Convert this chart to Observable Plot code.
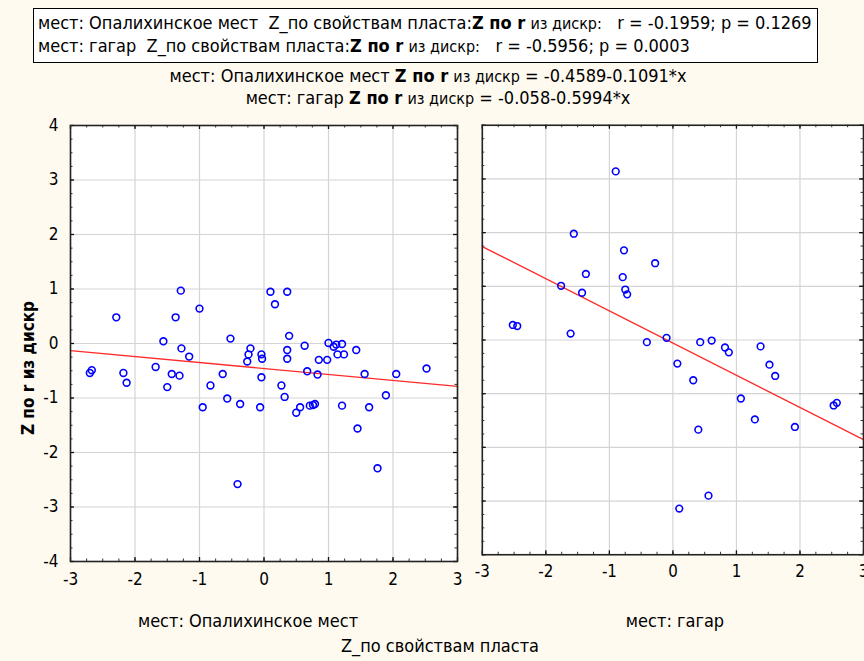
<!DOCTYPE html>
<html><head><meta charset="utf-8">
<script src="https://cdn.jsdelivr.net/npm/d3@7"></script>
<script src="https://cdn.jsdelivr.net/npm/@observablehq/plot@0.6"></script>
<style>
html,body{margin:0;padding:0;background:#fffaf0;overflow:hidden}
#wrap{position:relative;width:864px;height:661px;overflow:hidden;background:#fffaf0;
 font-family:"Liberation Sans Narrow","Arial Narrow","DejaVu Sans Condensed",sans-serif;color:#000}
.t{position:absolute;white-space:pre;font-size:18px;line-height:20px}
.bz{font-weight:bold;font-size:18px}
.sm{font-size:16px}
#legend{position:absolute;left:33px;top:8px;width:783px;height:53px;border:1px solid #000;background:#fff}
#legend .t{left:4px}
.p{position:absolute}
#ylab{position:absolute;left:28px;top:368px;transform:translate(-50%,-50%) rotate(-90deg);font-weight:bold;font-size:17px;white-space:pre}
</style></head>
<body>
<div id="wrap">
  <div id="legend"></div>
  <div id="eq"></div>
  <div id="left" class="p" style="left:0;top:110px"></div>
  <div id="right" class="p" style="left:470px;top:110px"></div>
  <div id="ylab"></div>
  <div id="bottom"></div>
</div>
<script>
// ---- data ----
const groupNames = ["Опалихинское мест", "гагар"];
const xVarName = "Z_по свойствам пласта";
const yVarName = "Z по r";
const yVarSuffix = "из дискр";
const rValues = ["-0.1959", "-0.5956"];
const pValues = ["0.1269", "0.0003"];
const intercepts = [-0.4589, -0.058];
const interceptText = ["-0.4589", "-0.058"];
const slopes = [-0.1091, -0.5994];
const slopeText = ["0.1091", "0.5994"];

const opalX = [-2.70,-2.67,-2.18,-2.13,-2.29,-1.56,-1.68,-1.43,-1.50,-1.31,-1.28,-1.16,-1.37,-1.29,-1.00,
  -0.95,-0.83,-0.64,-0.52,-0.57,-0.37,-0.41,-0.26,-0.24,-0.21,-0.04,-0.03,-0.04,-0.06,0.10,0.36,0.17,
  0.39,0.36,0.36,0.27,0.32,0.50,0.56,0.63,0.67,0.71,0.76,0.79,0.83,0.85,0.98,1.00,1.08,1.12,1.14,1.21,
  1.24,1.21,1.43,1.45,1.56,1.63,1.76,1.89,2.05,2.52];
const opalY = [-0.54,-0.49,-0.54,-0.72,0.48,0.04,-0.43,-0.56,-0.80,-0.59,-0.09,-0.24,0.48,0.97,0.64,
  -1.17,-0.77,-0.56,0.09,-1.01,-1.11,-2.58,-0.33,-0.20,-0.09,-0.20,-0.28,-0.62,-1.17,0.95,0.95,0.72,
  0.14,-0.12,-0.28,-0.77,-0.98,-1.27,-1.17,-0.04,-0.51,-1.14,-1.13,-1.11,-0.57,-0.30,-0.30,0.01,-0.06,-0.02,-0.20,-0.01,
  -0.20,-1.14,-0.12,-1.56,-0.56,-1.17,-2.29,-0.95,-0.56,-0.46];

const gagarX = [-0.90,-1.56,-0.77,-0.28,-1.37,-0.79,-1.76,-1.43,-0.75,-0.72,-2.52,-2.45,-1.61,
  -0.10,-0.41,0.07,0.32,0.43,0.61,0.82,0.88,1.38,1.52,1.61,1.07,1.29,1.92,0.40,2.53,2.58,0.56,0.10];
const gagarY = [3.14,1.98,1.67,1.43,1.23,1.17,1.01,0.88,0.94,0.85,0.28,0.26,0.12,
  0.04,-0.04,-0.44,-0.75,-0.04,-0.01,-0.14,-0.23,-0.12,-0.46,-0.67,-1.09,-1.48,-1.62,-1.67,-1.22,-1.17,-2.90,-3.14];

const xDomain = [-3, 3];
const yDomain = [-4, 4];
const xTicks = [-3,-2,-1,0,1,2,3];
const yTicks = [-4,-3,-2,-1,0,1,2,3,4];
const minorStep = 0.25;

// ---- layout ----
const FONT = '"Liberation Sans Narrow","Arial Narrow","DejaVu Sans Condensed",sans-serif';
const H = 490, MT = 15, MB = 39, PW = 387;
const PH = H - MT - MB;
const xMinor = d3.range(xDomain[0], xDomain[1] + 1e-9, minorStep);
const yMinor = d3.range(yDomain[0], yDomain[1] + 1e-9, minorStep);

function panel(xs, ys, a, b, showY, ml, mr) {
  const pts = xs.map((x, i) => ({x, y: ys[i]}));
  const fit = xDomain.map(x => ({x, y: a + b * x}));
  const tk = "#333";
  return Plot.plot({
    width: ml + PW + mr, height: H, marginTop: MT, marginBottom: MB, marginLeft: ml, marginRight: mr,
    x: {domain: xDomain, axis: null}, y: {domain: yDomain, axis: null},
    style: {background: "transparent", fontFamily: FONT, fontSize: "17px", color: "#000", overflow: "visible"},
    marks: [
      Plot.frame({fill: "#fff", stroke: null}),
      Plot.gridX(xTicks, {stroke: "#d4d4d4", strokeOpacity: 1, strokeWidth: 1.2}),
      Plot.gridY(yTicks, {stroke: "#d4d4d4", strokeOpacity: 1, strokeWidth: 1.2}),
      Plot.ruleX(xMinor, {insetBottom: PH - 2.5, stroke: tk, strokeWidth: 1}),
      Plot.ruleX(xMinor, {insetTop: PH - 2.5, stroke: tk, strokeWidth: 1}),
      Plot.ruleY(yMinor, {insetRight: PW - 2.5, stroke: tk, strokeWidth: 1}),
      Plot.ruleY(yMinor, {insetLeft: PW - 2.5, stroke: tk, strokeWidth: 1}),
      Plot.ruleX(xTicks, {insetBottom: PH - 4, stroke: "#111", strokeWidth: 1.3}),
      Plot.ruleX(xTicks, {insetTop: PH - 4, stroke: "#111", strokeWidth: 1.3}),
      Plot.ruleY(yTicks, {insetRight: PW - 4, stroke: "#111", strokeWidth: 1.3}),
      Plot.ruleY(yTicks, {insetLeft: PW - 4, stroke: "#111", strokeWidth: 1.3}),
      Plot.line(fit, {x: "x", y: "y", stroke: "#ff2a2a", strokeWidth: 1.4}),
      Plot.dot(pts, {x: "x", y: "y", r: 3.4, stroke: "#0000ff", strokeWidth: 1.6, fill: "none"}),
      Plot.frame({stroke: "#222", strokeWidth: 1.6}),
      Plot.axisX({ticks: xTicks, tickSize: 0, tickPadding: 11, label: null, tickFormat: d => String(d)}),
      showY ? Plot.axisY({ticks: yTicks, tickSize: 0, tickPadding: 12, label: null, tickFormat: d => String(d)}) : null
    ]
  });
}

document.getElementById("left").append(panel(opalX, opalY, intercepts[0], slopes[0], true, 70, 13));
document.getElementById("right").append(panel(gagarX, gagarY, intercepts[1], slopes[1], false, 12, 1));

// ---- texts ----
const legend = document.getElementById("legend");
groupNames.forEach((g, i) => {
  const d = document.createElement("div");
  d.className = "t";
  d.style.top = (4 + i * 23) + "px";
  d.innerHTML = `мест: ${g}  ${xVarName}:<span class="bz">${yVarName}</span> <span class="sm">${yVarSuffix}:</span>   r = ${rValues[i]}; p = ${pValues[i]}`;
  legend.append(d);
});
const eq = document.getElementById("eq");
groupNames.forEach((g, i) => {
  const d = document.createElement("div");
  d.className = "t";
  d.style.left = (i === 0 ? 428 : 438) + "px"; d.style.transform = "translateX(-50%)";
  d.style.top = (66 + i * 22) + "px";
  d.innerHTML = `мест: ${g} <span class="bz">${yVarName}</span> <span class="sm">${yVarSuffix}</span> = ${interceptText[i]}-${slopeText[i]}*x`;
  eq.append(d);
});
document.getElementById("ylab").textContent = `${yVarName} ${yVarSuffix}`;
const bottom = document.getElementById("bottom");
[[248, 611, "мест: " + groupNames[0]], [675, 611, "мест: " + groupNames[1]], [440, 636, xVarName]].forEach(([x, y, s]) => {
  const d = document.createElement("div");
  d.className = "t";
  d.style.left = x + "px"; d.style.top = y + "px"; d.style.transform = "translateX(-50%)";
  d.textContent = s;
  bottom.append(d);
});
</script>
</body></html>
